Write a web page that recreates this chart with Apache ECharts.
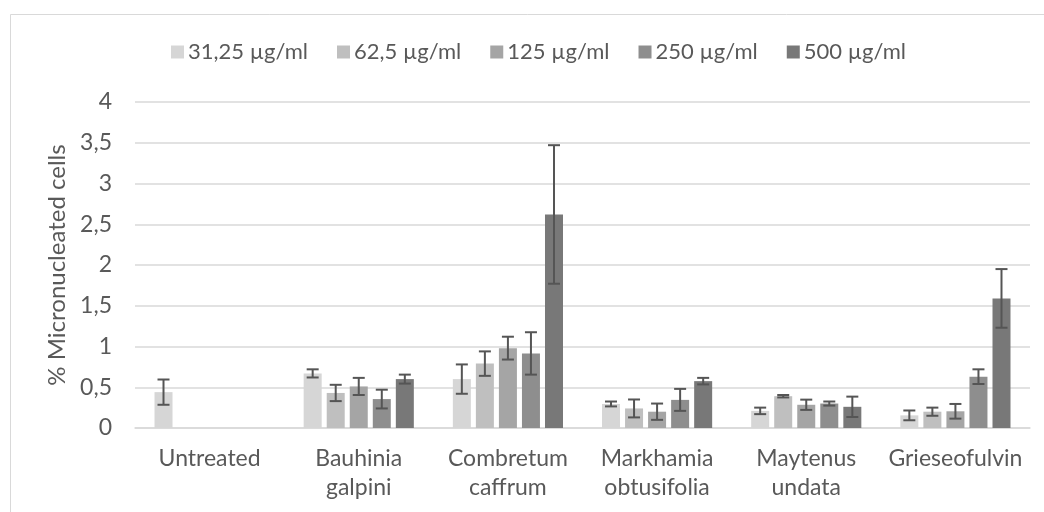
<!DOCTYPE html>
<html>
<head>
<meta charset="utf-8">
<script src="https://cdn.jsdelivr.net/npm/echarts@6/dist/echarts.min.js"></script>
<style>html,body{margin:0;padding:0;background:#fff;}#c{width:1044px;height:512px;}</style>
</head>
<body>
<div id="c"></div>
<script>
const categories = ['Untreated', 'Bauhinia\ngalpini', 'Combretum\ncaffrum', 'Markhamia\nobtusifolia', 'Maytenus\nundata', 'Grieseofulvin'];
const seriesNames = ['31,25 µg/ml', '62,5 µg/ml', '125 µg/ml', '250 µg/ml', '500 µg/ml'];
const yTicks = [0, 0.5, 1, 1.5, 2, 2.5, 3, 3.5, 4];

const v31 = [0.44, 0.67, 0.60, 0.295, 0.21, 0.155];
const v62 = [null, 0.43, 0.79, 0.24, 0.39, 0.20];
const v125 = [null, 0.51, 0.98, 0.20, 0.285, 0.205];
const v250 = [null, 0.355, 0.915, 0.345, 0.30, 0.63];
const v500 = [null, 0.60, 2.62, 0.575, 0.26, 1.59];

const e31 = [0.155, 0.05, 0.18, 0.03, 0.04, 0.06];
const e62 = [null, 0.10, 0.15, 0.11, 0.015, 0.05];
const e125 = [null, 0.105, 0.14, 0.10, 0.063, 0.09];
const e250 = [null, 0.115, 0.26, 0.135, 0.025, 0.09];
const e500 = [null, 0.055, 0.85, 0.04, 0.125, 0.36];

const colors = ['#d6d6d6', '#bfbfbf', '#a5a5a5', '#8e8e8e', '#787878'];
const values = [v31, v62, v125, v250, v500];
const errors = [e31, e62, e125, e250, e500];

const FONT = 'Lato';
const TXT = '#595959';
const FS = 23;
const BAR_W = 18;
const BAR_GAP = 0.28;

const chart = echarts.init(document.getElementById('c'), null, {renderer: 'canvas'});

const series = [];
values.forEach((vals, i) => {
  series.push({
    name: seriesNames[i],
    type: 'bar',
    data: vals.map(v => v === null ? '-' : v),
    barWidth: BAR_W,
    barGap: (BAR_GAP * 100) + '%',
    itemStyle: {color: colors[i]},
    emphasis: {disabled: true},
    animation: false
  });
});
values.forEach((vals, i) => {
  const data = [];
  vals.forEach((v, k) => { if (v !== null) data.push([k, v, errors[i][k]]); });
  const offset = (i - 2) * BAR_W * (1 + BAR_GAP);
  series.push({
    type: 'custom',
    data: data,
    z: 10,
    silent: true,
    animation: false,
    renderItem: function (params, api) {
      const c = api.value(0), v = api.value(1), e = api.value(2);
      const x = api.coord([c, 0])[0] + offset;
      const yHi = api.coord([c, v + e])[1];
      const yLo = api.coord([c, v - e])[1];
      const hw = 6;
      const st = {stroke: '#555555', lineWidth: 2};
      return {
        type: 'group',
        children: [
          {type: 'line', shape: {x1: x, y1: yHi, x2: x, y2: yLo}, style: st},
          {type: 'line', shape: {x1: x - hw, y1: yHi, x2: x + hw, y2: yHi}, style: st},
          {type: 'line', shape: {x1: x - hw, y1: yLo, x2: x + hw, y2: yLo}, style: st}
        ]
      };
    }
  });
});

chart.setOption({
  animation: false,
  backgroundColor: '#ffffff',
  textStyle: {fontFamily: FONT},
  graphic: [{
    type: 'rect', left: 8, top: 12, silent: true,
    shape: {x: 0.5, y: 0.5, width: 1100, height: 600},
    style: {fill: 'none', stroke: '#d9d9d9', lineWidth: 1}
  }],
  legend: {
    data: seriesNames,
    left: 166,
    top: 36,
    itemWidth: 13,
    itemHeight: 13,
    itemGap: 29,
    icon: 'rect',
    textStyle: {color: TXT, fontSize: 22, fontFamily: FONT, padding: [0, 0, 0, -1]}
  },
  grid: {left: 135, right: 14, top: 102, bottom: 84},
  xAxis: {
    type: 'category',
    data: categories,
    axisLine: {lineStyle: {color: '#d9d9d9', width: 1.5}},
    axisTick: {show: false},
    axisLabel: {color: TXT, fontSize: FS, fontFamily: FONT, lineHeight: 29, margin: 16, interval: 0}
  },
  yAxis: {
    type: 'value',
    min: yTicks[0],
    max: yTicks[yTicks.length - 1],
    interval: 0.5,
    name: '% Micronucleated cells',
    nameLocation: 'middle',
    nameGap: 65,
    nameTextStyle: {color: TXT, fontSize: 24, fontFamily: FONT},
    axisLine: {show: false},
    axisTick: {show: false},
    splitLine: {lineStyle: {color: '#d9d9d9', width: 1.5}},
    axisLabel: {
      color: TXT, fontSize: FS, fontFamily: FONT, margin: 23,
      formatter: v => String(v).replace('.', ',')
    }
  },
  series: series
});
</script>
</body>
</html>
